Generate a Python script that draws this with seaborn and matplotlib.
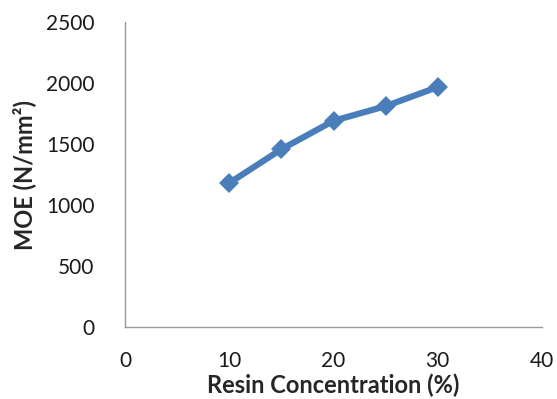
import matplotlib
matplotlib.use("Agg")
import matplotlib.pyplot as plt
import seaborn as sns
import pandas as pd

resin_conc = [10, 15, 20, 25, 30]
moe = [1180, 1457, 1690, 1810, 1967]
x_ticks = [0, 10, 20, 30, 40]
y_ticks = [0, 500, 1000, 1500, 2000, 2500]

sns.set_style("white")
plt.rcParams['font.family'] = ['Lato', 'DejaVu Sans']

df = pd.DataFrame({"x": resin_conc, "y": moe})
fig = plt.figure(figsize=(5.57, 3.99), dpi=100)
ax = fig.add_axes([125/557, (399-327)/399, (542-125)/557, (327-22)/399])
sns.lineplot(data=df, x="x", y="y", ax=ax, color="#4A7EBB", linewidth=4.5,
             marker="D", markersize=10, markeredgewidth=0)
ax.set_xlim(0, 40)
ax.set_ylim(0, 2500)
ax.set_xticks(x_ticks)
ax.set_yticks(y_ticks)
ax.tick_params(axis='both', length=0, labelsize=15, colors="#1a1a1a")
ax.tick_params(axis='x', pad=17)
ax.tick_params(axis='y', pad=22)
for s in ["top", "right"]:
    ax.spines[s].set_visible(False)
for s in ["left", "bottom"]:
    ax.spines[s].set_color("#9a9a9a")
    ax.spines[s].set_linewidth(1.0)
ax.set_xlabel("Resin Concentration (%)", fontsize=17, fontweight="bold", va="center")
ax.set_ylabel("MOE (N/mm²)", fontsize=17, fontweight="bold", va="center")
ax.xaxis.set_label_coords(0.5, (327-385)/305)
ax.yaxis.set_label_coords((24-125)/417, 0.5)
fig.savefig("out.png", dpi=100)
